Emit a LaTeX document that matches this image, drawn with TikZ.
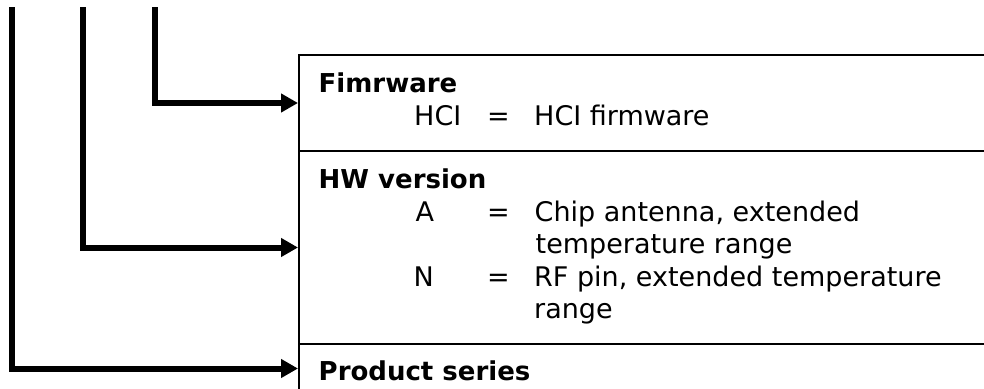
\documentclass[tikz,border=0pt]{standalone}
\usepackage{fontspec}
\setmainfont{DejaVu Sans}
\usetikzlibrary{arrows.meta}
\begin{document}
\begin{tikzpicture}[x=1pt,y=-1pt,
  sect/.style={draw, line width=2pt, minimum width=720pt, anchor=north west, inner sep=0pt},
  conn/.style={line width=6pt, -{Triangle[length=17pt,width=18pt]}},
  txt/.style={anchor=base west, inner sep=0pt, font=\fontsize{27}{32}\selectfont},
  head/.style={anchor=base west, inner sep=0pt, font=\fontsize{26}{31}\selectfont\bfseries}]
\clip (0,0) rectangle (984,388);
\fill[white] (0,0) rectangle (984,388);
\node[sect, minimum height=96pt] (fw) at (298,54) {};
\node[sect, minimum height=193pt] (hw) at (298,150) {};
\node[sect, minimum height=49pt] (ps) at (298,343) {};
\coordinate (s1) at (154.5,7);
\coordinate (s2) at (82.5,7);
\coordinate (s3) at (11.5,7);
\draw[conn] (s1) |- (fw.west);
\draw[conn] (s2) |- (hw.west);
\draw[conn] (s3) |- (ps.west);
\node[head] (fwh) at (318.5,92) {Fimrware};
\node[txt] (hcik) at (414,125) {HCI};
\node[txt] (hcie) at (487,125) {=};
\node[txt] (hciv) at (534,125) {HCI firmware};
\node[head] (hwh) at (318.5,188) {HW version};
\node[txt] (ak) at (415.5,221.5) {A};
\node[txt] (ae) at (487,221.5) {=};
\node[txt] (av1) at (534.5,221.5) {Chip antenna, extended};
\node[txt] (av2) at (535.5,253) {temperature range};
\node[txt] (nk) at (413.5,286) {N};
\node[txt] (ne) at (487,286) {=};
\node[txt] (nv1) at (534,286) {RF pin, extended temperature};
\node[txt] (nv2) at (534,318) {range};
\node[head] (psh) at (318.5,380) {Product series};
\end{tikzpicture}
\end{document}
